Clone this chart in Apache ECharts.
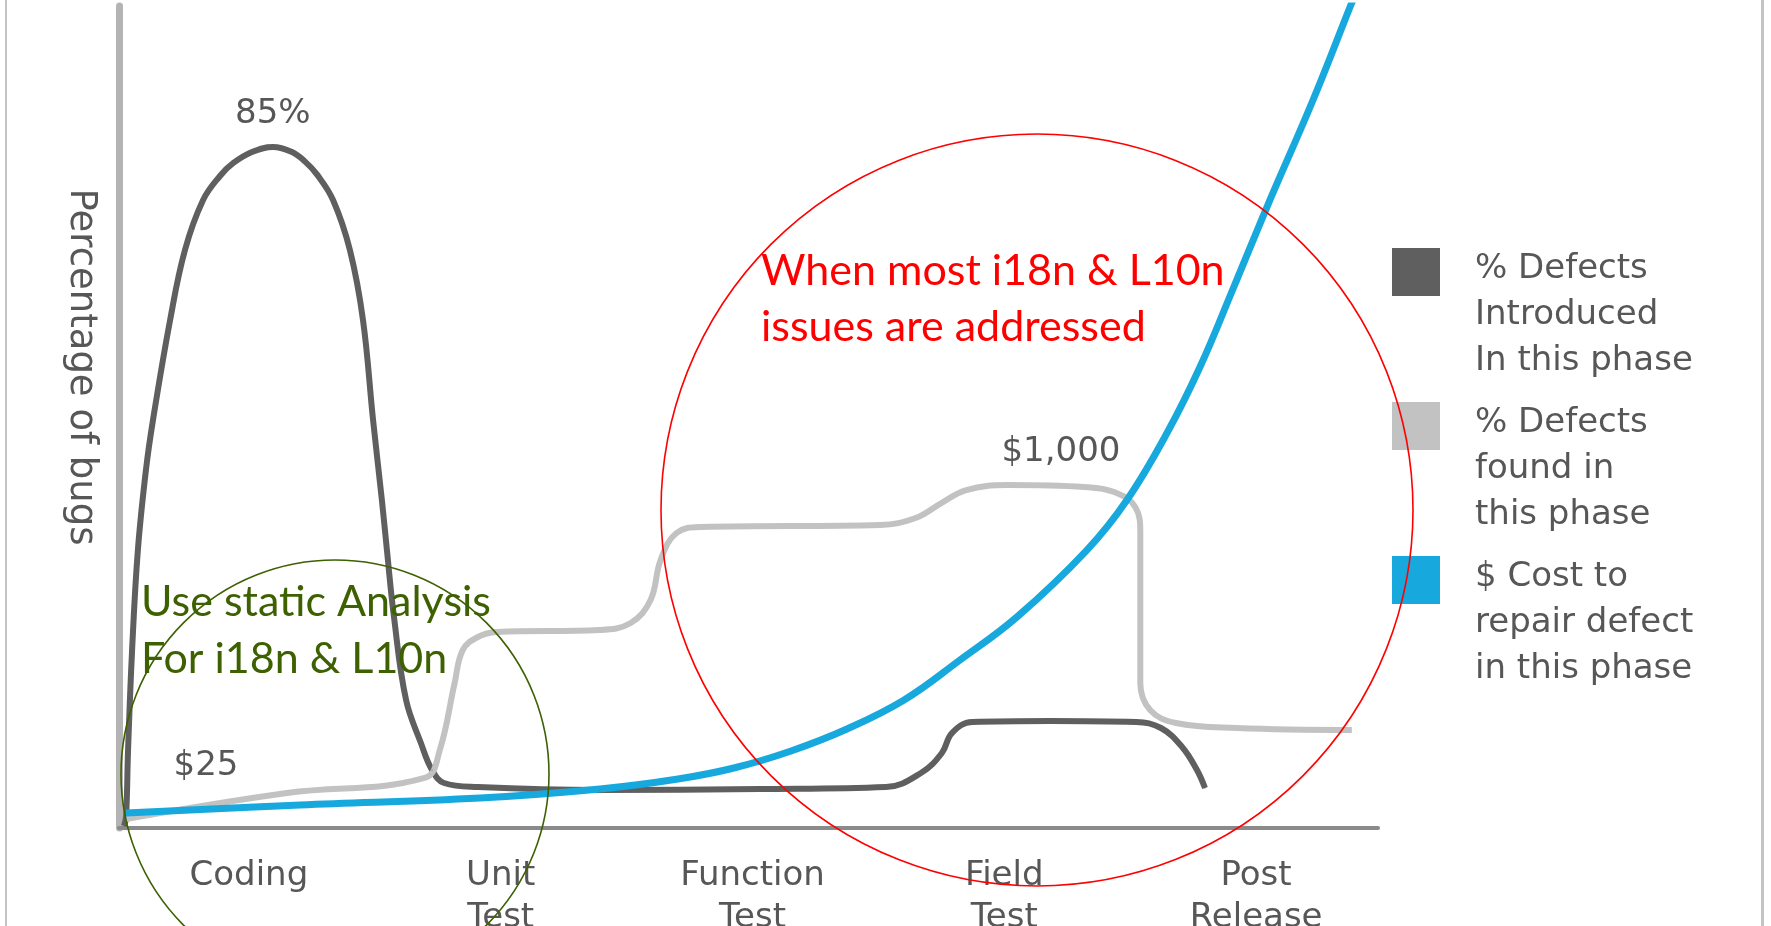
<!DOCTYPE html>
<html>
<head>
<meta charset="utf-8">
<script src="https://cdn.jsdelivr.net/npm/echarts@6/dist/echarts.min.js"></script>
<style>
  html, body { margin: 0; padding: 0; background: #ffffff; }
  #chart { width: 1771px; height: 926px; }
</style>
</head>
<body>
<div id="chart"></div>
<script>
// phases on the x axis (value axis 0..5 runs underneath, one unit per phase)
const categories = ['Coding', 'Unit\nTest', 'Function\nTest', 'Field\nTest', 'Post\nRelease']

// % defects introduced in this phase
const introducedX = [0.020, 0.028, 0.036, 0.052, 0.075, 0.107, 0.135, 0.203, 0.262, 0.334, 0.401, 0.453, 0.528, 0.611, 0.687, 0.739, 0.786, 0.850, 0.917, 0.969, 1.009, 1.044, 1.064, 1.092, 1.140, 1.199, 1.243, 1.291, 1.426, 1.910, 2.546, 3.046, 3.185, 3.268, 3.308, 3.388, 3.697, 4.039, 4.138, 4.222, 4.281, 4.313]
const introducedY = [0.25, 1.38, 9.77, 22.3, 34.83, 44.86, 51.12, 63.65, 72.42, 78.69, 81.7, 83.3, 84.7, 85.33, 84.7, 83.5, 81.9, 78.69, 72.42, 63.65, 51.12, 41.1, 34.83, 26.44, 16.04, 10.65, 7.27, 5.64, 5.14, 4.76, 4.89, 5.14, 6.89, 9.4, 11.9, 13.28, 13.41, 13.28, 12.53, 10.15, 7.27, 5.01]
const introducedLabels = { 13: '85%' }

// % defects found in this phase
const foundX = [0.028, 0.667, 1.214, 1.274, 1.333, 1.365, 1.425, 1.500, 1.909, 2.032, 2.111, 2.151, 2.214, 2.313, 3.024, 3.163, 3.266, 3.365, 3.528, 3.833, 3.952, 4.036, 4.056, 4.056, 4.095, 4.198, 4.440, 4.896]
const foundY = [1.13, 4.39, 6.27, 9.77, 18.17, 22.3, 23.93, 24.56, 24.81, 25.69, 28.57, 33.58, 36.96, 37.72, 37.97, 38.84, 40.72, 42.35, 42.98, 42.73, 42.1, 40.22, 36.96, 18.17, 14.79, 13.16, 12.53, 12.28]

// $ cost to repair a defect (relative scale)
const costX = [0.028, 0.719, 1.434, 1.910, 2.220, 2.442, 2.669, 2.891, 3.118, 3.340, 3.566, 3.844, 4.003, 4.162, 4.293, 4.424, 4.559, 4.742, 4.889, 4.948]
const costY = [1.88, 2.88, 3.76, 4.89, 6.14, 7.52, 9.65, 12.4, 16.04, 21.05, 26.44, 34.83, 41.1, 49.49, 57.76, 67.54, 77.81, 91.22, 102.87, 107.5]
const costLabels = { 1: '$25', 11: '$1,000' }

const seriesNames = ['% Defects\nIntroduced\nIn this phase', '% Defects\nfound in\nthis phase', '$ Cost to\nrepair defect\nin this phase']

const labelFont = 'DejaVu Sans'
const textGray = '#575757'

function buildData (xs, ys, labels, labelStyles) {
  return xs.map((x, i) => {
    const item = { value: [x, ys[i]] }
    if (labels[i]) {
      item.label = Object.assign({
        show: true,
        formatter: labels[i],
        fontFamily: labelFont,
        fontSize: 34,
        lineHeight: 34,
        color: textGray
      }, labelStyles[i])
    }
    return item
  })
}

// square legend swatch near the top of a tall box so it lines up with the first text line
const legendIcon = 'path://M0,3h48v48h-48z M0,0h0.01v0.01h-0.01z M0,141h0.01v0.01h-0.01z'

const chart = echarts.init(document.getElementById('chart'))

const option = {
  animation: false,
  backgroundColor: '#ffffff',
  grid: { left: 119, right: 393, top: 6, bottom: 98, outerBoundsMode: 'none', containLabel: false },
  legend: {
    orient: 'vertical',
    left: 1392,
    top: 245,
    padding: 0,
    itemGap: 13,
    itemWidth: 48,
    itemHeight: 141,
    selectedMode: false,
    itemStyle: { borderWidth: 0 },
    textStyle: {
      fontFamily: labelFont,
      fontSize: 34,
      lineHeight: 46,
      color: textGray,
      padding: [0, 0, 0, 30]
    },
    data: seriesNames.map(n => ({ name: n, icon: legendIcon }))
  },
  xAxis: [
    {
      type: 'category',
      data: categories,
      boundaryGap: true,
      axisTick: { show: false },
      axisLine: { lineStyle: { color: '#8a8a8a', width: 4 } },
      axisLabel: {
        margin: 27,
        fontFamily: labelFont,
        fontSize: 34,
        lineHeight: 42,
        color: textGray,
        padding: [0, 0, 0, 8]
      }
    },
    { type: 'value', min: 0, max: 5, show: false }
  ],
  yAxis: {
    type: 'value',
    min: 0,
    max: 103,
    name: 'Percentage of bugs',
    nameLocation: 'middle',
    nameRotate: -90,
    nameGap: 20,
    nameTextStyle: {
      fontFamily: labelFont,
      fontSize: 37,
      color: textGray,
      padding: [0, 100, 0, 0]
    },
    axisLine: { show: true, lineStyle: { color: '#b4b4b4', width: 7 } },
    axisTick: { show: false },
    axisLabel: { show: false },
    splitLine: { show: false }
  },
  series: [
    {
      name: seriesNames[0],
      type: 'line',
      xAxisIndex: 1,
      smooth: 0.4,
      symbol: 'circle',
      symbolSize: 1,
      color: '#5f5f5f',
      lineStyle: { color: '#5f5f5f', width: 6 },
      data: buildData(introducedX, introducedY, introducedLabels, { 13: { position: 'top', distance: 15 } })
    },
    {
      name: seriesNames[1],
      type: 'line',
      xAxisIndex: 1,
      smooth: 0.4,
      symbol: 'circle',
      symbolSize: 1,
      color: '#c2c2c2',
      lineStyle: { color: '#c2c2c2', width: 6 },
      data: buildData(foundX, foundY, {}, {})
    },
    {
      name: seriesNames[2],
      type: 'line',
      xAxisIndex: 1,
      smooth: 0.4,
      symbol: 'circle',
      symbolSize: 1,
      color: '#17a9dd',
      lineStyle: { color: '#17a9dd', width: 7 },
      data: buildData(costX, costY, costLabels, {
        1: { position: 'top', distance: 21, offset: [-94, 0] },
        11: { position: 'top', distance: 80, offset: [-26, 0] }
      })
    }
  ],
  graphic: [
    // thin frame lines at the picture edges
    { type: 'rect', z: 100, shape: { x: 5, y: 0, width: 2, height: 926 }, style: { fill: '#c4c4c4' } },
    { type: 'rect', z: 100, shape: { x: 1761, y: 0, width: 3, height: 926 }, style: { fill: '#c4c4c4' } },
    // green note
    { type: 'circle', z: 100, shape: { cx: 335, cy: 774, r: 214 }, style: { fill: 'none', stroke: '#3d6000', lineWidth: 1.6 } },
    {
      type: 'text', z: 101, x: 141, y: 574,
      style: { text: 'Use static Analysis\nFor i18n & L10n', font: '43px Lato', lineHeight: 57, fill: '#3d6000' }
    },
    // red note
    { type: 'circle', z: 100, shape: { cx: 1037, cy: 510, r: 376 }, style: { fill: 'none', stroke: '#ff0000', lineWidth: 1.6 } },
    {
      type: 'text', z: 101, x: 761, y: 243,
      style: { text: 'When most i18n & L10n\nissues are addressed', font: '43px Lato', lineHeight: 56, fill: '#ff0000' }
    }
  ]
}

chart.setOption(option)
</script>
</body>
</html>
